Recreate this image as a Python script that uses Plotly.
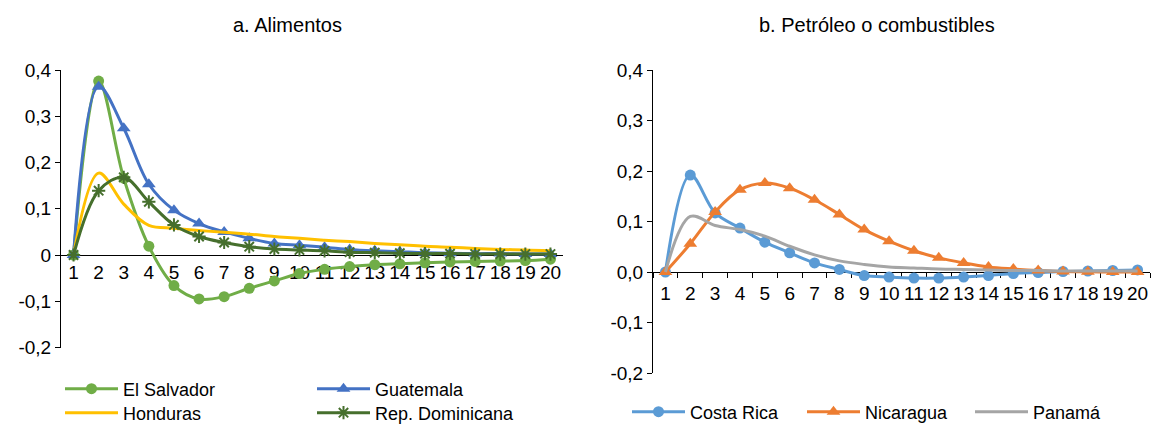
import plotly.graph_objects as go

periods = [str(i) for i in range(1, 21)]

# Panel a. Alimentos
el_salvador = [0.0, 0.376, 0.166, 0.019, -0.066, -0.095, -0.090, -0.072, -0.056, -0.040,
               -0.031, -0.025, -0.021, -0.019, -0.017, -0.015, -0.014, -0.013, -0.012, -0.009]
guatemala = [0.0, 0.364, 0.274, 0.153, 0.097, 0.068, 0.050, 0.036, 0.025, 0.021,
             0.017, 0.012, 0.009, 0.007, 0.005, 0.004, 0.003, 0.003, 0.002, 0.002]
honduras = [0.0, 0.177, 0.110, 0.064, 0.058, 0.053, 0.049, 0.045, 0.040, 0.036,
            0.032, 0.029, 0.025, 0.022, 0.019, 0.017, 0.014, 0.012, 0.011, 0.009]
rep_dominicana = [0.0, 0.139, 0.168, 0.115, 0.065, 0.040, 0.027, 0.018, 0.013, 0.011,
                  0.009, 0.006, 0.005, 0.004, 0.003, 0.003, 0.002, 0.002, 0.002, 0.002]

# Panel b. Petróleo o combustibles
costa_rica = [0.0, 0.192, 0.117, 0.087, 0.059, 0.038, 0.018, 0.005, -0.007, -0.010,
              -0.012, -0.012, -0.010, -0.007, -0.003, -0.001, 0.001, 0.002, 0.003, 0.004]
nicaragua = [0.0, 0.056, 0.119, 0.163, 0.176, 0.166, 0.143, 0.114, 0.084, 0.061,
             0.042, 0.028, 0.018, 0.010, 0.006, 0.003, 0.001, 0.0005, 0.0, 0.0]
panama = [0.0, 0.110, 0.092, 0.084, 0.071, 0.051, 0.034, 0.022, 0.015, 0.010,
          0.008, 0.006, 0.005, 0.004, 0.003, 0.003, 0.002, 0.002, 0.002, 0.002]

title_a = "a. Alimentos"
title_b = "b. Petróleo o combustibles"
yticks = [-0.2, -0.1, 0.0, 0.1, 0.2, 0.3, 0.4]
yticktext_a = ["-0,2", "-0,1", "0", "0,1", "0,2", "0,3", "0,4"]
yticktext_b = ["-0,2", "-0,1", "0,0", "0,1", "0,2", "0,3", "0,4"]

W, H = 1151, 424
FONT = "Liberation Sans, Arial, sans-serif"
FS_TICK = 19
FS_LEG = 18
FS_TITLE = 20

fig = go.Figure()

def add(y, name, color, xa, ya, leg, symbol=None, msize=10, open_sym=False):
    mode = "lines+markers" if symbol else "lines"
    marker = None
    if symbol:
        if open_sym:
            marker = dict(symbol=symbol, size=msize, color=color, line=dict(color=color, width=2))
        else:
            marker = dict(symbol=symbol, size=msize, color=color)
    fig.add_trace(go.Scatter(x=periods, y=y, name=name, mode=mode,
                             line=dict(color=color, width=3, shape="spline"),
                             marker=marker, xaxis=xa, yaxis=ya, legend=leg,
                             cliponaxis=False))

add(el_salvador, "El Salvador", "#70AD47", "x", "y", "legend", "circle", 11)
add(guatemala, "Guatemala", "#4472C4", "x", "y", "legend2", "triangle-up", 12)
add(honduras, "Honduras", "#FFC000", "x", "y", "legend3")
add(rep_dominicana, "Rep. Dominicana", "#466F2D", "x", "y", "legend4", "asterisk-open", 11, True)

add(costa_rica, "Costa Rica", "#5B9BD5", "x2", "y2", "legend5", "circle", 11)
add(nicaragua, "Nicaragua", "#ED7D31", "x2", "y2", "legend6", "triangle-up", 12)
add(panama, "Panamá", "#A5A5A5", "x2", "y2", "legend7")

def leg(xpx, ypx):
    return dict(x=xpx / W, y=1 - ypx / H, xanchor="left", yanchor="middle",
                bgcolor="rgba(0,0,0,0)", itemwidth=53,
                font=dict(family=FONT, size=FS_LEG, color="black"))

axis_common = dict(showgrid=False, zeroline=False, linecolor="black", linewidth=1,
                   tickfont=dict(family=FONT, size=FS_TICK, color="black"))

fig.update_layout(
    width=W, height=H, margin=dict(l=0, r=0, t=0, b=0, autoexpand=False),
    paper_bgcolor="white", plot_bgcolor="white",
    font=dict(family=FONT, size=FS_TICK, color="black"),
    xaxis=dict(domain=[61 / W, 563 / W], anchor="free", position=1 - 255 / H,
               type="category", range=[-0.5, 19.5], showline=True, ticks="",
               tickangle=0, layer="below traces", **axis_common),
    yaxis=dict(domain=[1 - 347.5 / H, 1 - 70 / H], anchor="x", range=[-0.2, 0.4],
               tickvals=yticks, ticktext=yticktext_a, showline=True, ticks="outside",
               ticklen=5, tickcolor="black", **axis_common),
    xaxis2=dict(domain=[653 / W, 1150 / W], anchor="free", position=1 - 272 / H,
                type="category", range=[-0.5, 19.5], showline=True, ticks="outside",
                tickson="boundaries", ticklen=5, tickcolor="black", tickangle=0,
                ticklabelstandoff=4, layer="below traces", **axis_common),
    yaxis2=dict(domain=[1 - 373 / H, 1 - 70 / H], anchor="x2", range=[-0.2, 0.4],
                tickvals=yticks, ticktext=yticktext_b, showline=True, ticks="outside",
                ticklen=5, tickcolor="black", **axis_common),
    showlegend=True,
    legend=leg(60, 389),
    legend2=leg(312, 389),
    legend3=leg(60, 413),
    legend4=leg(312, 413),
    legend5=leg(627, 412),
    legend6=leg(802, 412),
    legend7=leg(970, 412),
    annotations=[
        dict(text=title_a, x=287 / W, y=1 - 25 / H, xref="paper", yref="paper",
             showarrow=False, xanchor="center", yanchor="middle",
             font=dict(family=FONT, size=FS_TITLE, color="black")),
        dict(text=title_b, x=877 / W, y=1 - 25 / H, xref="paper", yref="paper",
             showarrow=False, xanchor="center", yanchor="middle",
             font=dict(family=FONT, size=FS_TITLE, color="black")),
    ],
)

fig.write_html("out.html")
